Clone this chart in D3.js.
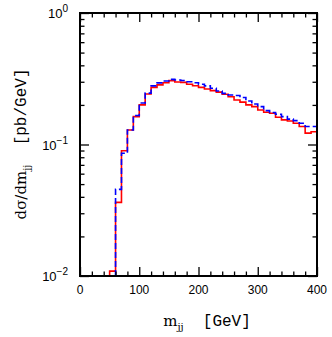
<!DOCTYPE html>
<html>
<head>
<meta charset="utf-8">
<script src="https://cdn.jsdelivr.net/npm/d3@7"></script>
<style>
  body { margin: 0; background: #fff; }
  svg { display: block; }
</style>
</head>
<body>
<svg id="chart" width="332" height="337"></svg>
<script>
// bin lower edges (GeV), 10 GeV wide
const binLo = [50, 60, 70, 80, 90, 100, 110, 120, 130, 140, 150, 160, 170, 180, 190,
  200, 210, 220, 230, 240, 250, 260, 270, 280, 290, 300, 310, 320, 330, 340, 350,
  360, 370, 380, 390];
const binHi = 400;

// red solid histogram
const redVals = [0.0109, 0.0363, 0.0897, 0.129, 0.163, 0.200, 0.242, 0.272, 0.284, 0.295,
  0.306, 0.299, 0.297, 0.287, 0.280, 0.272, 0.264, 0.257, 0.250, 0.241, 0.231, 0.218,
  0.210, 0.200, 0.194, 0.183, 0.176, 0.173, 0.161, 0.154, 0.151, 0.145, 0.137, 0.122, 0.125];

// blue dashed histogram (starts at 60 GeV)
const blueVals = [null, 0.0456, 0.0857, 0.129, 0.166, 0.207, 0.246, 0.279, 0.294, 0.304,
  0.313, 0.309, 0.307, 0.300, 0.295, 0.287, 0.279, 0.268, 0.255, 0.245, 0.238, 0.236,
  0.228, 0.214, 0.203, 0.194, 0.181, 0.175, 0.170, 0.163, 0.156, 0.152, 0.145, 0.137, 0.137];

const xMajor = [0, 100, 200, 300, 400];
const yMajor = [0.01, 0.1, 1];
const yMajorExp = ["-2", "-1", "0"];

const svg = d3.select("#chart");
const pLeft = 80, pRight = 317, pTop = 13, pBottom = 276;

const x = d3.scaleLinear().domain([0, 400]).range([pLeft, pRight]);
const y = d3.scaleLog().domain([0.01, 1]).range([pBottom, pTop]);

svg.append("defs").append("clipPath").attr("id", "plotclip")
  .append("rect")
    .attr("x", pLeft).attr("y", pTop)
    .attr("width", pRight - pLeft).attr("height", pBottom - pTop);

// histogram step paths
const step = d3.line()
  .x(d => x(d[0]))
  .y(d => y(d[1]))
  .curve(d3.curveStepAfter);

const toPoints = vals => {
  let pts = [];
  vals.forEach((v, i) => {
    if (v === null) return;
    if (pts.length === 0) pts.push([binLo[i], 0.01]);   // rise from the axis
    pts.push([binLo[i], v]);
  });
  pts.push([binHi, vals[vals.length - 1]]);
  return pts;
};

const plot = svg.append("g").attr("clip-path", "url(#plotclip)");

plot.append("path")
  .attr("d", step(toPoints(redVals)))
  .attr("fill", "none")
  .attr("stroke", "#ff0000")
  .attr("stroke-width", 1.6);

plot.append("path")
  .attr("d", step(toPoints(blueVals)))
  .attr("fill", "none")
  .attr("stroke", "#0000ff")
  .attr("stroke-width", 1.6)
  .attr("stroke-dasharray", "6,3");

// ticks (inward, on all four sides)
const xMinor = d3.range(0, 401, 20).filter(v => !xMajor.includes(v));
const yMinor = y.ticks().filter(v => !yMajor.some(m => Math.abs(m - v) < 1e-9));

const tickGroups = [
  [d3.axisBottom(x), `translate(0,${pBottom})`, xMajor, xMinor],
  [d3.axisTop(x), `translate(0,${pTop})`, xMajor, xMinor],
  [d3.axisLeft(y), `translate(${pLeft},0)`, yMajor, yMinor],
  [d3.axisRight(y), `translate(${pRight},0)`, yMajor, yMinor]
];
tickGroups.forEach(([axis, tr, major, minor]) => {
  [[major, 9], [minor, 4.5]].forEach(([vals, len]) => {
    const g = svg.append("g")
      .attr("transform", tr)
      .call(axis.tickValues(vals).tickSize(-len).tickFormat(""));
    g.select(".domain").remove();
    g.selectAll("line").attr("stroke", "#000").attr("stroke-width", 1.3);
  });
});

// frame
svg.append("rect")
  .attr("x", pLeft).attr("y", pTop)
  .attr("width", pRight - pLeft).attr("height", pBottom - pTop)
  .attr("fill", "none")
  .attr("stroke", "#000")
  .attr("stroke-width", 2);

// x tick labels
svg.append("g")
  .selectAll("text")
  .data(xMajor)
  .join("text")
    .attr("x", d => x(d))
    .attr("y", 294)
    .attr("text-anchor", "middle")
    .attr("font-family", "Liberation Sans, Arial, sans-serif")
    .attr("font-size", 12)
    .text(d => d);

// y tick labels with exponents
const yLab = svg.append("g")
  .selectAll("text")
  .data(yMajor)
  .join("text")
    .attr("x", 68)
    .attr("y", d => y(d) + 5)
    .attr("text-anchor", "end")
    .attr("font-family", "Liberation Sans, Arial, sans-serif")
    .attr("font-size", 13);
yLab.append("tspan").text("10");
yLab.append("tspan")
  .attr("dy", -6)
  .attr("font-size", 10)
  .text((d, i) => yMajorExp[i].replace("-", "\u2212"));

// x axis title
const xt = svg.append("text")
  .attr("x", 207)
  .attr("y", 326)
  .attr("text-anchor", "middle")
  .attr("font-family", "DejaVu Serif, serif")
  .attr("font-size", 15);
xt.append("tspan").text("m");
xt.append("tspan").attr("dy", 4).attr("font-size", 10).text("jj");
xt.append("tspan").attr("dy", -4).attr("font-family", "Liberation Mono, monospace")
  .attr("font-size", 16).text("\u00a0\u00a0[GeV]");

// y axis title
const yt = svg.append("text")
  .attr("transform", "translate(26,144) rotate(-90)")
  .attr("text-anchor", "middle")
  .attr("font-family", "DejaVu Serif, serif")
  .attr("font-size", 15);
yt.append("tspan").text("d\u03c3/dm");
yt.append("tspan").attr("dy", 4).attr("font-size", 10).text("jj");
yt.append("tspan").attr("dy", -4).attr("font-family", "Liberation Mono, monospace")
  .attr("font-size", 16).text("\u00a0\u00a0[pb/GeV]");
</script>
</body>
</html>
